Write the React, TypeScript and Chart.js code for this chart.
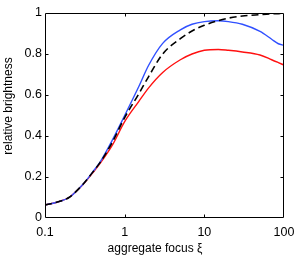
import React, { useEffect, useRef } from "react";
import { Chart, registerables } from "chart.js";

Chart.register(...registerables);

const focusValues = [0.1, 0.15, 0.2, 0.3, 0.4, 0.5, 0.7, 1, 1.5, 2, 3, 5, 7, 10, 15, 20, 30, 50, 70, 85, 100];
const dashedSeries = [0.063, 0.08, 0.1, 0.165, 0.225, 0.275, 0.37, 0.49, 0.605, 0.69, 0.8, 0.875, 0.912, 0.94, 0.963, 0.975, 0.985, 0.992, 0.996, 0.997, 0.998];
const blueSeries = [0.063, 0.08, 0.1, 0.165, 0.226, 0.278, 0.38, 0.5, 0.64, 0.745, 0.852, 0.918, 0.945, 0.958, 0.962, 0.958, 0.945, 0.91, 0.872, 0.85, 0.842];
const redSeries = [0.063, 0.08, 0.1, 0.163, 0.222, 0.27, 0.355, 0.47, 0.568, 0.635, 0.71, 0.772, 0.8, 0.818, 0.822, 0.818, 0.81, 0.795, 0.772, 0.758, 0.746];
const xTicks = [0.1, 1, 10, 100];
const yTicks = [0, 0.2, 0.4, 0.6, 0.8, 1];
const xTitle = "aggregate focus ξ";
const yTitle = "relative brightness";

const FONT = "'Liberation Sans', Arial, Helvetica, sans-serif";

const boxPlugin = {
  id: "matlabBox",
  afterDraw(chart: any) {
    const { ctx, chartArea, scales } = chart;
    const l = Math.round(chartArea.left) + 0.5;
    const r = Math.round(chartArea.right) - 0.5;
    const t = Math.round(chartArea.top) + 0.5;
    const b = Math.round(chartArea.bottom) - 0.5;
    const len = 3;
    ctx.save();
    ctx.strokeStyle = "#000";
    ctx.lineWidth = 1;
    ctx.beginPath();
    ctx.rect(l, t, r - l, b - t);
    for (const v of xTicks) {
      const px = Math.round(scales.x.getPixelForValue(v)) + 0.5;
      if (px <= l + 1 || px >= r - 1) continue;
      ctx.moveTo(px, b);
      ctx.lineTo(px, b - len);
      ctx.moveTo(px, t);
      ctx.lineTo(px, t + len);
    }
    for (const v of yTicks) {
      const py = Math.round(scales.y.getPixelForValue(v)) + 0.5;
      if (py <= t + 1 || py >= b - 1) continue;
      ctx.moveTo(l, py);
      ctx.lineTo(l + len, py);
      ctx.moveTo(r, py);
      ctx.lineTo(r - len, py);
    }
    ctx.stroke();

    // axis titles
    ctx.fillStyle = "#000";
    ctx.font = `12px ${FONT}`;
    ctx.textAlign = "center";
    ctx.textBaseline = "alphabetic";
    ctx.fillText(xTitle, 155, 251.5);
    ctx.translate(12, 106);
    ctx.rotate(-Math.PI / 2);
    ctx.fillText(yTitle, 0, 0);
    ctx.restore();
  },
};

function toPoints(ys: number[]) {
  return focusValues.map((x, i) => ({ x, y: ys[i] }));
}

export default function App() {
  const ref = useRef<HTMLCanvasElement | null>(null);

  useEffect(() => {
    if (!ref.current) return;
    const chart = new Chart(ref.current, {
      type: "line",
      data: {
        datasets: [
          {
            data: toPoints(dashedSeries),
            borderColor: "#000000",
            borderWidth: 1.6,
            borderDash: [7, 4],
            pointRadius: 0,
            cubicInterpolationMode: "monotone",
          },
          {
            data: toPoints(blueSeries),
            borderColor: "#3050ff",
            borderWidth: 1.4,
            pointRadius: 0,
            cubicInterpolationMode: "monotone",
          },
          {
            data: toPoints(redSeries),
            borderColor: "#ff1010",
            borderWidth: 1.4,
            pointRadius: 0,
            cubicInterpolationMode: "monotone",
          },
        ],
      },
      options: {
        animation: false,
        responsive: false,
        devicePixelRatio: 1,
        layout: { padding: { top: 13, right: 18, left: 0, bottom: 0 } },
        plugins: { legend: { display: false }, tooltip: { enabled: false } },
        scales: {
          x: {
            type: "logarithmic",
            min: 0.1,
            max: 100,
            afterBuildTicks: (scale: any) => {
              scale.ticks = xTicks.map((v) => ({ value: v }));
            },
            afterFit: (scale: any) => {
              scale.height = 39;
            },
            grid: { display: false, drawTicks: false },
            border: { display: false },
            ticks: {
              color: "#000",
              padding: 7,
              maxRotation: 0,
              autoSkip: false,
              font: { family: FONT, size: 12.5 },
              callback: (v: any) => String(Number(v)),
            },
          },
          y: {
            type: "linear",
            min: 0,
            max: 1,
            afterBuildTicks: (scale: any) => {
              scale.ticks = yTicks.map((v) => ({ value: v }));
            },
            afterFit: (scale: any) => {
              scale.width = 45;
            },
            grid: { display: false, drawTicks: false },
            border: { display: false },
            ticks: {
              color: "#000",
              padding: 3,
              font: { family: FONT, size: 12.5 },
              callback: (v: any) => String(Number(Number(v).toFixed(1))),
            },
          },
        },
      },
      plugins: [boxPlugin],
    } as any);
    return () => chart.destroy();
  }, []);

  return (
    <div style={{ position: "absolute", left: 0, top: 0, width: 302, height: 257, background: "#fff" }}>
      <canvas ref={ref} width={302} height={257} />
    </div>
  );
}
